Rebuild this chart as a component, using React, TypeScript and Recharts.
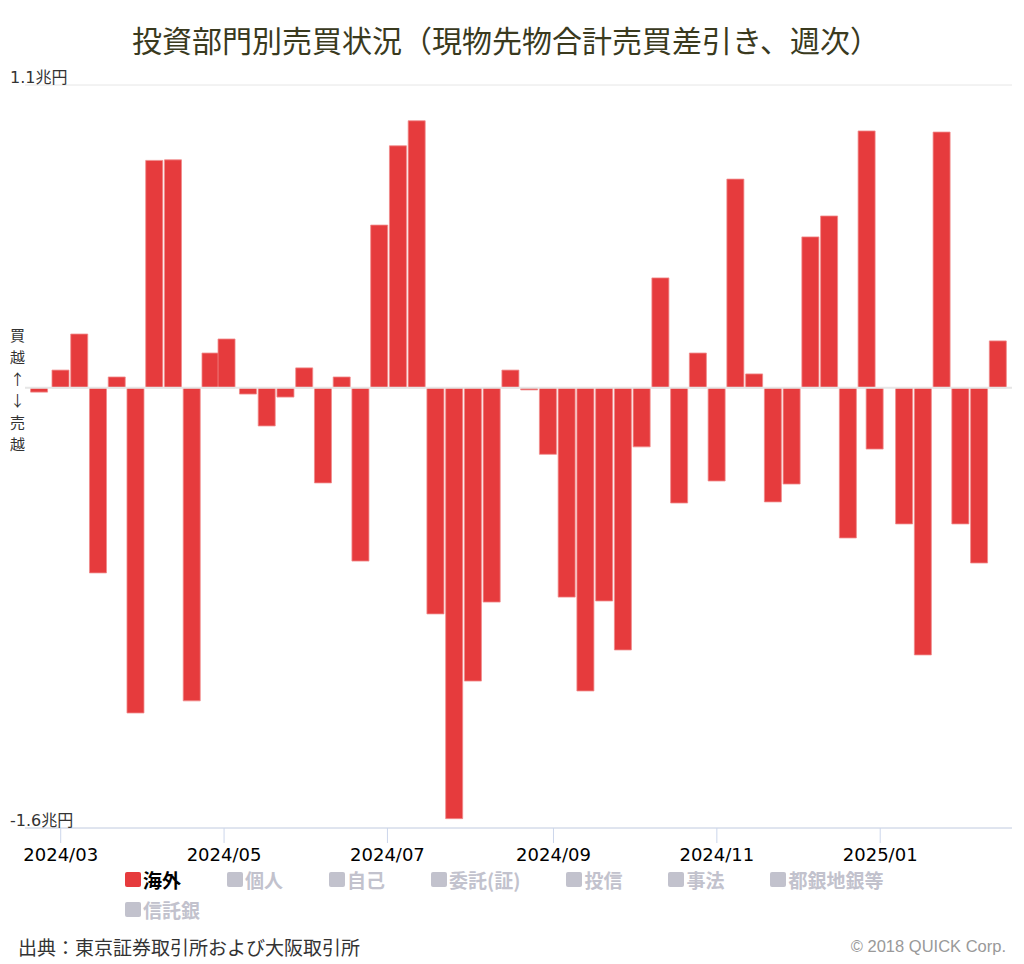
import React from "react";
import { BarChart, Bar, XAxis, YAxis, CartesianGrid, ReferenceLine, Rectangle } from "recharts";

// 週の最終営業日
const WEEKS = [
  "2024-02-22", "2024-03-01", "2024-03-08", "2024-03-15", "2024-03-22", "2024-03-29",
  "2024-04-05", "2024-04-12", "2024-04-19", "2024-04-26", "2024-05-02", "2024-05-10",
  "2024-05-17", "2024-05-24", "2024-05-31", "2024-06-07", "2024-06-14", "2024-06-21",
  "2024-06-28", "2024-07-05", "2024-07-12", "2024-07-19", "2024-07-26", "2024-08-02",
  "2024-08-09", "2024-08-16", "2024-08-23", "2024-08-30", "2024-09-06", "2024-09-13",
  "2024-09-20", "2024-09-27", "2024-10-04", "2024-10-11", "2024-10-18", "2024-10-25",
  "2024-11-01", "2024-11-08", "2024-11-15", "2024-11-22", "2024-11-29", "2024-12-06",
  "2024-12-13", "2024-12-20", "2024-12-27", "2024-12-30", "2025-01-10", "2025-01-17",
  "2025-01-24", "2025-01-31", "2025-02-07", "2025-02-14",
];

// 海外投資家 売買差引き（兆円）
const OVERSEAS = [
  -0.016, 0.064, 0.195, -0.673, 0.039, -1.182,
  0.826, 0.828, -1.138, 0.126, 0.177, -0.023,
  -0.139, -0.034, 0.072, -0.346, 0.039, -0.63,
  0.591, 0.879, 0.97, -0.822, -1.566, -1.066,
  -0.779, 0.064, -0.008, -0.242, -0.761, -1.102,
  -0.775, -0.953, -0.215, 0.399, -0.419, 0.126,
  -0.339, 0.758, 0.05, -0.415, -0.35, 0.548,
  0.624, -0.546, 0.933, -0.223, -0.495, -0.971,
  0.929, -0.495, -0.637, 0.17,
];

const MONTH_TICKS = ["2024-03-01", "2024-05-01", "2024-07-01", "2024-09-01", "2024-11-01", "2025-01-01"];
const Y_TICKS = [-1.6, 0, 1.1];
const LEGEND_NAMES = ["海外", "個人", "自己", "委託(証)", "投信", "事法", "都銀地銀等", "信託銀"];
const VISIBLE = ["海外"];

const RED = "#e63b3d";
const CJK = "'Noto Sans CJK JP', 'Noto Sans', sans-serif";
const LATIN = "'DejaVu Sans', 'Noto Sans CJK JP', sans-serif";

const ts = (d: string) => new Date(d + "T00:00:00Z").getTime();
const X_DOMAIN = [ts("2024-02-16") + 16 * 3600e3, ts("2025-02-19") + 5 * 3600e3];

const data = WEEKS.map((d, i) => ({ t: ts(d), v: OVERSEAS[i] }));

const fmtMonth = (t: number) => {
  const d = new Date(t);
  return `${d.getUTCFullYear()}/${String(d.getUTCMonth() + 1).padStart(2, "0")}`;
};

function YTick(props: { y?: number; payload?: { value?: number } }) {
  const v = props.payload?.value;
  if (v === undefined || v === 0) return <g />;
  return (
    <text x={10} y={(props.y ?? 0) - 2} fill="#333" fontSize={16} fontFamily={LATIN}>
      {`${v}兆円`}
    </text>
  );
}

// fixed-width bar centred on its week
function WeekBar(props: { x?: number; y?: number; width?: number; height?: number }) {
  const cx = (props.x ?? 0) + (props.width ?? 0) / 2;
  return (
    <Rectangle x={cx - 8.5} y={props.y} width={17} height={props.height}
      fill={RED} stroke="#f08a8a" strokeWidth={0.8} />
  );
}

export default function App() {
  return (
    <div style={{ position: "absolute", left: 0, top: 0, width: 1024, height: 964, background: "#fff", fontFamily: CJK }}>
      <div style={{ position: "absolute", top: 17, left: 0, width: 1012, textAlign: "center", fontSize: 30, color: "#3a3a1e" }}>
        投資部門別売買状況（現物先物合計売買差引き、週次）
      </div>

      <BarChart width={1024} height={964} data={data} margin={{ top: 85, right: 12, bottom: 106, left: 0 }}>
        <CartesianGrid vertical={false} stroke="#e6e6e6" />
        <YAxis domain={[-1.6, 1.1]} ticks={Y_TICKS} width={25} axisLine={false} tickLine={false}
          tick={<YTick />} interval={0} allowDataOverflow />
        <XAxis dataKey="t" type="number" domain={X_DOMAIN} ticks={MONTH_TICKS.map(ts)} interval={0}
          tickFormatter={fmtMonth} tickSize={15} tickMargin={5} allowDataOverflow height={30}
          axisLine={{ stroke: "#ccd6eb" }} tickLine={{ stroke: "#ccd6eb" }}
          tick={{ fill: "#000", fontSize: 18, fontFamily: LATIN }} />
        <ReferenceLine y={0} stroke="#e6e6e6" strokeWidth={2} />
        <Bar dataKey="v" fill={RED} shape={<WeekBar />} isAnimationActive={false} />
      </BarChart>

      <div style={{ position: "absolute", left: 8, top: 324, width: 19, textAlign: "center", fontSize: 15, color: "#333" }}>
        {"買越↑↓売越".split("").map((c, i) => (
          <div key={i} style={{ height: 21.8, lineHeight: "21.8px", overflow: "hidden" }}>{c}</div>
        ))}
      </div>

      <div style={{ position: "absolute", left: 125, top: 868, width: 800, display: "flex", flexWrap: "wrap", columnGap: 46, rowGap: 8 }}>
        {LEGEND_NAMES.map((n) => {
          const on = VISIBLE.includes(n);
          return (
            <div key={n} style={{ display: "flex", alignItems: "center", height: 22, fontSize: 19, fontWeight: 700, color: on ? "#000" : "#c2c2cd" }}>
              <span style={{ display: "inline-block", width: 16, height: 15, borderRadius: 2, background: on ? RED : "#c2c2cd", marginRight: 2 }} />
              {n}
            </div>
          );
        })}
      </div>

      <div style={{ position: "absolute", left: 18, top: 933, fontSize: 19, color: "#333" }}>
        出典：東京証券取引所および大阪取引所
      </div>
      <div style={{ position: "absolute", right: 18, top: 937, fontSize: 16.5, color: "#999", fontFamily: "'Liberation Sans', sans-serif" }}>
        © 2018 QUICK Corp.
      </div>
    </div>
  );
}
